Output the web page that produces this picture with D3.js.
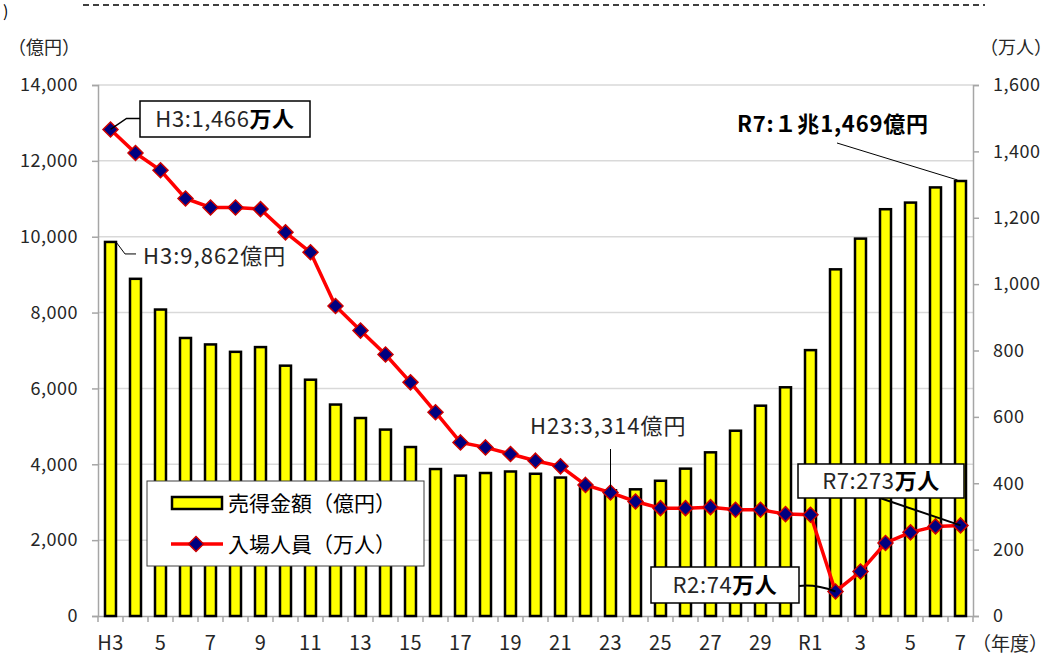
<!DOCTYPE html>
<html>
<head>
<meta charset="utf-8">
<script src="https://cdn.jsdelivr.net/npm/d3@7"></script>
<style>
  body { margin: 0; background: #fff; }
  svg text { font-family: "Noto Sans CJK JP", "Noto Sans", sans-serif; }
</style>
</head>
<body>
<div class="container"></div>
<script>
var svgWidth = 1051;
var svgHeight = 660;
var margin = { top: 85, right: 78, bottom: 44, left: 98 };
var width = svgWidth - margin.left - margin.right;
var height = svgHeight - margin.top - margin.bottom;

// fiscal years (H3..H30, R1..R7)
var years = ["H3","H4","H5","H6","H7","H8","H9","H10","H11","H12","H13","H14","H15","H16",
  "H17","H18","H19","H20","H21","H22","H23","H24","H25","H26","H27","H28","H29","H30",
  "R1","R2","R3","R4","R5","R6","R7"];
// 売得金額 (億円)
var sales = [9862, 8890, 8080, 7330, 7160, 6965, 7090, 6600, 6230, 5575, 5220, 4915, 4455, 3875,
  3700, 3770, 3810, 3750, 3650, 3410, 3314, 3340, 3565, 3885, 4315, 4885, 5545, 6030,
  7010, 9140, 9950, 10725, 10900, 11300, 11469];
// 入場人員 (万人)
var visitors = [1466, 1395, 1343, 1258, 1231, 1231, 1226, 1156, 1096, 934, 860, 788, 704, 614,
  523, 508, 488, 468, 451, 395, 372, 345, 325, 325, 328, 320, 320, 307,
  305, 74, 134, 220, 252, 270, 273];
// x tick labels shown under every other year
var xTickLabels = { "H3": "H3", "H5": "5", "H7": "7", "H9": "9", "H11": "11", "H13": "13",
  "H15": "15", "H17": "17", "H19": "19", "H21": "21", "H23": "23", "H25": "25", "H27": "27",
  "H29": "29", "R1": "R1", "R3": "3", "R5": "5", "R7": "7" };
var leftTicks = [0, 2000, 4000, 6000, 8000, 10000, 12000, 14000];
var rightTicks = [0, 200, 400, 600, 800, 1000, 1200, 1400, 1600];

var svg = d3.select(".container")
  .append("svg")
  .attr("width", svgWidth)
  .attr("height", svgHeight);

// dashed rule at the top of the page
svg.append("line")
  .attr("x1", 83).attr("x2", 985)
  .attr("y1", 5).attr("y2", 5)
  .attr("stroke", "#000")
  .attr("stroke-width", 1.5)
  .attr("stroke-dasharray", "6,4");
svg.append("text")
  .attr("x", 3).attr("y", 17)
  .attr("font-size", 16)
  .text(")");

var chartGroup = svg.append("g")
  .attr("transform", `translate(${margin.left}, ${margin.top})`);

var xScale = d3.scaleBand()
  .domain(years)
  .range([0, width]);
var yLeft = d3.scaleLinear().domain([0, 14000]).range([height, 0]);
var yRight = d3.scaleLinear().domain([0, 1600]).range([height, 0]);
var cx = d => xScale(d) + xScale.bandwidth() / 2;

// gridlines
chartGroup.append("g")
  .selectAll("line")
  .data(leftTicks.filter(d => d > 0))
  .enter()
  .append("line")
  .attr("x1", 0).attr("x2", width)
  .attr("y1", d => yLeft(d)).attr("y2", d => yLeft(d))
  .attr("stroke", "#d9d9d9")
  .attr("stroke-width", 1.5);

// axes
var leftAxis = d3.axisLeft(yLeft).tickValues(leftTicks)
  .tickFormat(d3.format(",")).tickSize(6).tickPadding(14);
var rightAxis = d3.axisRight(yRight).tickValues(rightTicks)
  .tickFormat(d3.format(",")).tickSize(6).tickPadding(14);
var bottomAxis = d3.axisBottom(xScale).tickSize(0).tickPadding(20)
  .tickFormat(d => xTickLabels[d] || "");

function styleAxis(g) {
  g.select(".domain").attr("stroke", "#a6a6a6").attr("stroke-width", 1.5);
  g.selectAll(".tick line").attr("stroke", "#a6a6a6").attr("stroke-width", 1.5);
  g.selectAll(".tick text").attr("fill", "#262626").attr("font-size", 18)
    .attr("letter-spacing", 0.5)
    .attr("font-family", "'Noto Sans CJK JP', sans-serif");
}

chartGroup.append("g").call(leftAxis).call(styleAxis);
chartGroup.append("g")
  .attr("transform", `translate(${width}, 0)`)
  .call(rightAxis).call(styleAxis);
var xAxis = chartGroup.append("g")
  .attr("transform", `translate(0, ${height})`)
  .call(bottomAxis).call(styleAxis);
xAxis.selectAll(".tick text").attr("font-size", 20);
// category boundary ticks
xAxis.append("g")
  .selectAll("line")
  .data(years.concat(["end"]))
  .enter()
  .append("line")
  .attr("x1", (d, i) => i * xScale.step())
  .attr("x2", (d, i) => i * xScale.step())
  .attr("y1", 0).attr("y2", 6)
  .attr("stroke", "#a6a6a6")
  .attr("stroke-width", 1.5);

// axis unit labels
svg.append("text").attr("x", 8).attr("y", 54).attr("font-size", 18).attr("fill", "#262626").text("（億円）");
svg.append("text").attr("x", 980).attr("y", 54).attr("font-size", 18).attr("fill", "#262626").text("（万人）");
svg.append("text").attr("x", 972).attr("y", 651).attr("font-size", 19).attr("fill", "#262626").text("（年度）");

// bars
var barW = 11;
chartGroup.append("g")
  .selectAll("rect")
  .data(sales)
  .enter()
  .append("rect")
  .attr("x", (d, i) => cx(years[i]) - barW / 2)
  .attr("y", d => yLeft(d))
  .attr("width", barW)
  .attr("height", d => height - yLeft(d))
  .attr("fill", "#ffff00")
  .attr("stroke", "#000")
  .attr("stroke-width", 2.5);

// visitors line
var line = d3.line()
  .x((d, i) => cx(years[i]))
  .y(d => yRight(d));
chartGroup.append("path")
  .datum(visitors)
  .attr("d", line)
  .attr("fill", "none")
  .attr("stroke", "#ff0000")
  .attr("stroke-width", 3.5);

var diamond = "M0,-7.5L7.5,0L0,7.5L-7.5,0Z";
chartGroup.append("g")
  .selectAll("path")
  .data(visitors)
  .enter()
  .append("path")
  .attr("d", diamond)
  .attr("transform", (d, i) => `translate(${cx(years[i])}, ${yRight(d)})`)
  .attr("fill", "#000080")
  .attr("stroke", "#cc0000")
  .attr("stroke-width", 1.5);

// legend
var legend = svg.append("g");
legend.append("rect")
  .attr("x", 147).attr("y", 481).attr("width", 277).attr("height", 85)
  .attr("fill", "#fff").attr("stroke", "#404040").attr("stroke-width", 1);
legend.append("rect")
  .attr("x", 172).attr("y", 497).attr("width", 50).attr("height", 12)
  .attr("fill", "#ffff00").attr("stroke", "#000").attr("stroke-width", 2.5);
legend.append("text").attr("x", 228).attr("y", 511).attr("font-size", 21).text("売得金額（億円）");
legend.append("line")
  .attr("x1", 171).attr("x2", 223).attr("y1", 544).attr("y2", 544)
  .attr("stroke", "#ff0000").attr("stroke-width", 3.5);
legend.append("path")
  .attr("d", diamond)
  .attr("transform", "translate(196, 544)")
  .attr("fill", "#000080").attr("stroke", "#cc0000").attr("stroke-width", 1.5);
legend.append("text").attr("x", 228).attr("y", 552).attr("font-size", 21).text("入場人員（万人）");

// annotations
var ann = chartGroup.append("g");
function boxLabel(x, y, w, h, plain, bold) {
  ann.append("rect")
    .attr("x", x).attr("y", y).attr("width", w).attr("height", h)
    .attr("fill", "#fff").attr("stroke", "#000").attr("stroke-width", 1.5);
  var t = ann.append("text")
    .attr("x", x + w / 2).attr("y", y + h / 2 + 8)
    .attr("text-anchor", "middle")
    .attr("font-size", 22)
    .attr("letter-spacing", 0.6)
    .attr("fill", "#262626");
  t.append("tspan").text(plain);
  t.append("tspan").attr("font-weight", "bold").attr("fill", "#000").text(bold);
}

var i0 = 0, iMin = years.indexOf("H23"), iR2 = years.indexOf("R2"), iLast = years.length - 1;

// H3 visitors
var p0 = [cx(years[i0]), yRight(visitors[i0])];
ann.append("path")
  .attr("d", `M${p0[0]},${p0[1]}L${p0[0] + 16},${p0[1] - 11}L${140 - margin.left},${p0[1] - 11}`)
  .attr("fill", "none").attr("stroke", "#000").attr("stroke-width", 1.5);
boxLabel(140 - margin.left, 101 - margin.top, 170, 36, "H3:1,466", "万人");

// H3 sales
var b0 = [cx(years[i0]) + barW / 2, yLeft(sales[i0])];
ann.append("path")
  .attr("d", `M${b0[0]},${b0[1]}L${b0[0] + 9},${b0[1] + 12}L${b0[0] + 20},${b0[1] + 12}`)
  .attr("fill", "none").attr("stroke", "#000").attr("stroke-width", 1);
ann.append("text")
  .attr("x", 143 - margin.left).attr("y", 264 - margin.top)
  .attr("font-size", 22).attr("letter-spacing", 1).attr("fill", "#262626")
  .text("H3:9,862億円");

// H23 sales minimum
var pm = [cx(years[iMin]), yLeft(sales[iMin])];
ann.append("line")
  .attr("x1", pm[0]).attr("x2", pm[0])
  .attr("y1", 449 - margin.top).attr("y2", pm[1])
  .attr("stroke", "#000").attr("stroke-width", 1);
ann.append("text")
  .attr("x", 530 - margin.left).attr("y", 434 - margin.top)
  .attr("font-size", 22).attr("letter-spacing", 1).attr("fill", "#262626")
  .text("H23:3,314億円");

// R7 sales
var pl = [cx(years[iLast]) - 3, yLeft(sales[iLast])];
ann.append("line")
  .attr("x1", 837 - margin.left).attr("y1", 143 - margin.top)
  .attr("x2", pl[0]).attr("y2", pl[1] - 1)
  .attr("stroke", "#000").attr("stroke-width", 1);
ann.append("text")
  .attr("x", 737 - margin.left).attr("y", 132 - margin.top)
  .attr("font-size", 22).attr("letter-spacing", 0.8).attr("font-weight", "bold")
  .text("R7:１兆1,469億円");

// R7 visitors
var pv = [cx(years[iLast]), yRight(visitors[iLast])];
ann.append("line")
  .attr("x1", 880 - margin.left).attr("y1", 498 - margin.top)
  .attr("x2", pv[0]).attr("y2", pv[1])
  .attr("stroke", "#000").attr("stroke-width", 2);
boxLabel(798 - margin.left, 464 - margin.top, 166, 34, "R7:273", "万人");

// R2 visitors
var pr = [cx(years[iR2]), yRight(visitors[iR2])];
ann.append("path")
  .attr("d", `M${799 - margin.left},${586 - margin.top}Q${815 - margin.left},${584 - margin.top} ${pr[0]},${pr[1]}`)
  .attr("fill", "none").attr("stroke", "#000").attr("stroke-width", 2);
boxLabel(651 - margin.left, 567 - margin.top, 148, 36, "R2:74", "万人");
</script>
</body>
</html>
